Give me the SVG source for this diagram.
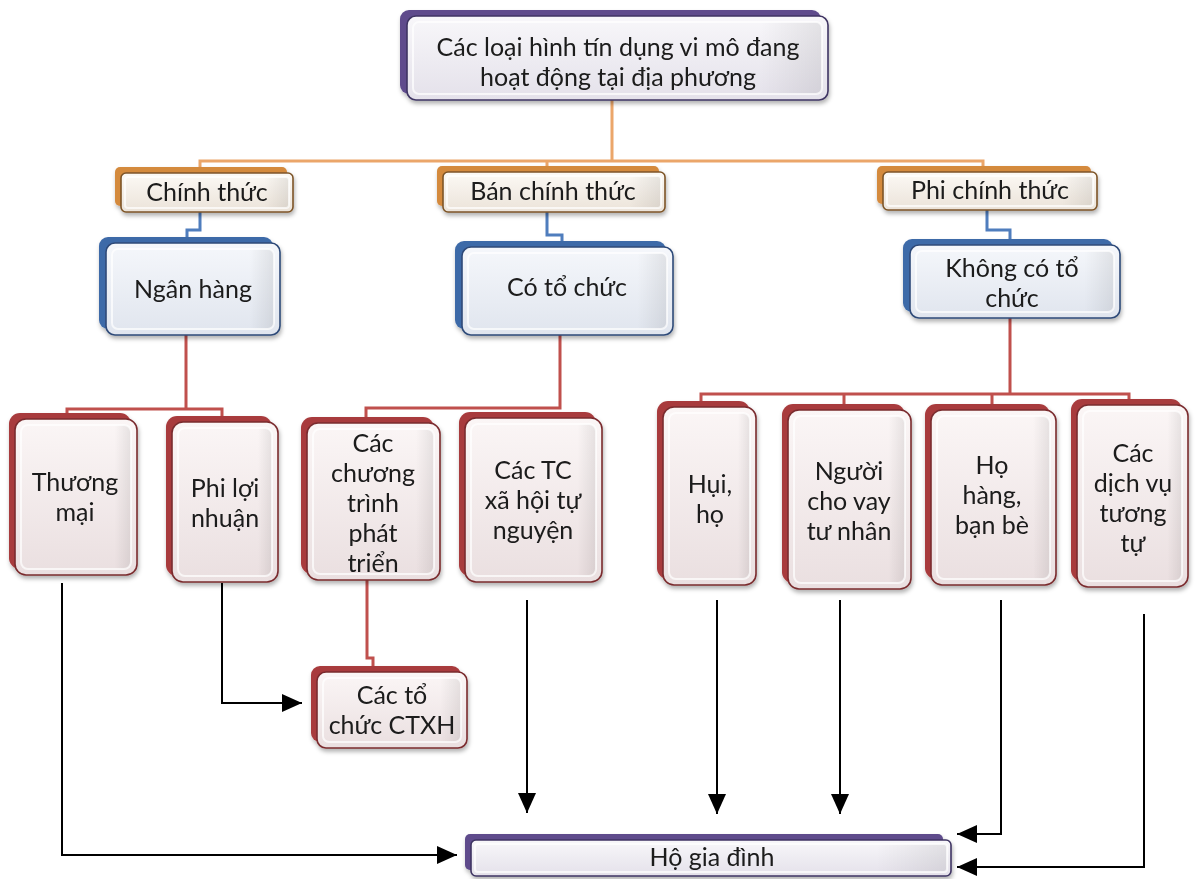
<svg xmlns="http://www.w3.org/2000/svg" width="1197" height="879" viewBox="0 0 1197 879">
<defs>
  <linearGradient id="gPurple" x1="0" y1="0" x2="0" y2="1"><stop offset="0" stop-color="#f8f7fa"/><stop offset="1" stop-color="#e4e1ea"/></linearGradient>
  <linearGradient id="gOrange" x1="0" y1="0" x2="0" y2="1"><stop offset="0" stop-color="#fcf9f5"/><stop offset="1" stop-color="#ebe3d9"/></linearGradient>
  <linearGradient id="gBlue" x1="0" y1="0" x2="0" y2="1"><stop offset="0" stop-color="#f5f7fb"/><stop offset="1" stop-color="#e0e5ee"/></linearGradient>
  <linearGradient id="gRed" x1="0" y1="0" x2="0" y2="1"><stop offset="0" stop-color="#fbf6f6"/><stop offset="1" stop-color="#eadfe0"/></linearGradient>
  <linearGradient id="gShade" x1="0" y1="0" x2="1" y2="0"><stop offset="0" stop-color="#000" stop-opacity="0"/><stop offset="0.85" stop-color="#000" stop-opacity="0"/><stop offset="1" stop-color="#000" stop-opacity="0.08"/></linearGradient>
  <filter id="sh" x="-10%" y="-10%" width="120%" height="130%"><feDropShadow dx="1" dy="3" stdDeviation="2" flood-color="#000" flood-opacity="0.3"/></filter>
  <marker id="ah" markerUnits="userSpaceOnUse" markerWidth="20" markerHeight="18" refX="20" refY="9" orient="auto"><path d="M0,0 L20,9 L0,18 z" fill="#000"/></marker>
  <style>
    .back{stroke:none}
    .bp{fill:#5e4b8c}.bo{fill:#d48a3e}.bb{fill:#3e6aa8}.br{fill:#a83a3c}
    .face{stroke-width:1.6}
    .fp{fill:url(#gPurple);stroke:#3f3563}
    .fo{fill:url(#gOrange);stroke:#7d5428}
    .fb{fill:url(#gBlue);stroke:#2e4a78}
    .fr{fill:url(#gRed);stroke:#7a2c2e}
    .bev{fill:url(#gShade);stroke:#fff;stroke-opacity:0.7;stroke-width:2}
    .t{font-family:Lato,"Liberation Sans",sans-serif;font-size:25px;fill:#1a1a1a;text-anchor:middle}
    .co{fill:none;stroke:#eba66a;stroke-width:3}
    .cb{fill:none;stroke:#4f7dbd;stroke-width:3}
    .cr{fill:none;stroke:#c0504d;stroke-width:3}
    .ck{fill:none;stroke:#000;stroke-width:2}
    .node{filter:url(#sh)}
  </style>
</defs>
<rect width="1197" height="879" fill="#fff"/>

<g id="connectors">
  <path class="co" d="M612 100 V161 M200 168 V161 H983 V167 M547 161 V168"/>
  <path class="cb" d="M200 212 V230 H187 V238"/>
  <path class="cb" d="M547 212 V235 H562 V241"/>
  <path class="cb" d="M987 210 V230 H1010 V239"/>
  <path class="cr" d="M186 335 V409 M67 414 V409 H222 V417"/>
  <path class="cr" d="M560 335 V408 H366 V417"/>
  <path class="cr" d="M1010 318 V394 M701 402 V394 H1129 V400 M844 394 V404 M992 394 V404"/>
  <path class="cr" d="M367 580 V658 H373 V667"/>
  <path class="ck" d="M62 583 V855 H457" marker-end="url(#ah)"/>
  <path class="ck" d="M222 583 V703 H302" marker-end="url(#ah)"/>
  <path class="ck" d="M527 600 V813" marker-end="url(#ah)"/>
  <path class="ck" d="M717 600 V814" marker-end="url(#ah)"/>
  <path class="ck" d="M840 600 V814" marker-end="url(#ah)"/>
  <path class="ck" d="M1001 600 V834 H957" marker-end="url(#ah)"/>
  <path class="ck" d="M1144 614 V867 H957" marker-end="url(#ah)"/>
</g>

<g id="n-root" class="node">
  <rect class="back bp" x="400" y="10" width="421" height="84" rx="9"/>
  <rect class="face fp" x="407" y="16" width="421" height="84" rx="9"/>
  <rect class="bev" x="413" y="22" width="409" height="72" rx="6"/>
  <text class="t" x="618" y="56">Các loại hình tín dụng vi mô đang</text>
  <text class="t" x="618" y="86">hoạt động tại địa phương</text>
</g>

<g id="n-chinhthuc" class="node">
  <rect class="back bo" x="115" y="167" width="172" height="39" rx="5"/>
  <rect class="face fo" x="121" y="173" width="172" height="39" rx="5"/>
  <rect class="bev" x="125" y="177" width="164" height="31" rx="3"/>
  <text class="t" x="207" y="201">Chính thức</text>
</g>

<g id="n-banchinhthuc" class="node">
  <rect class="back bo" x="437" y="166" width="222" height="40" rx="5"/>
  <rect class="face fo" x="443" y="172" width="222" height="40" rx="5"/>
  <rect class="bev" x="447" y="176" width="214" height="32" rx="3"/>
  <text class="t" x="553" y="200">Bán chính thức</text>
</g>

<g id="n-phichinhthuc" class="node">
  <rect class="back bo" x="877" y="166" width="214" height="38" rx="5"/>
  <rect class="face fo" x="883" y="172" width="214" height="38" rx="5"/>
  <rect class="bev" x="887" y="176" width="206" height="30" rx="3"/>
  <text class="t" x="990" y="199">Phi chính thức</text>
</g>

<g id="n-nganhang" class="node">
  <rect class="back bb" x="99" y="237" width="174" height="92" rx="9"/>
  <rect class="face fb" x="106" y="243" width="174" height="92" rx="9"/>
  <rect class="bev" x="112" y="249" width="162" height="80" rx="6"/>
  <text class="t" x="193" y="298">Ngân hàng</text>
</g>

<g id="n-cotochuc" class="node">
  <rect class="back bb" x="455" y="241" width="211" height="88" rx="9"/>
  <rect class="face fb" x="462" y="247" width="211" height="88" rx="9"/>
  <rect class="bev" x="468" y="253" width="199" height="76" rx="6"/>
  <text class="t" x="567" y="296">Có tổ chức</text>
</g>

<g id="n-khongtochuc" class="node">
  <rect class="back bb" x="903" y="239" width="210" height="73" rx="9"/>
  <rect class="face fb" x="910" y="245" width="210" height="73" rx="9"/>
  <rect class="bev" x="916" y="251" width="198" height="61" rx="6"/>
  <text class="t" x="1012" y="277">Không có tổ</text>
  <text class="t" x="1012" y="307">chức</text>
</g>

<g id="n-thuongmai" class="node">
  <rect class="back br" x="9" y="413" width="122" height="156" rx="11"/>
  <rect class="face fr" x="15" y="419" width="122" height="156" rx="11"/>
  <rect class="bev" x="21" y="425" width="110" height="144" rx="7"/>
  <text class="t" x="75" y="491">Thương</text>
  <text class="t" x="75" y="521">mại</text>
</g>

<g id="n-philoinhuan" class="node">
  <rect class="back br" x="166" y="416" width="106" height="160" rx="11"/>
  <rect class="face fr" x="172" y="422" width="106" height="160" rx="11"/>
  <rect class="bev" x="178" y="428" width="94" height="148" rx="7"/>
  <text class="t" x="225" y="497">Phi lợi</text>
  <text class="t" x="225" y="527">nhuận</text>
</g>

<g id="n-chuongtrinh" class="node">
  <rect class="back br" x="301" y="417" width="133" height="157" rx="11"/>
  <rect class="face fr" x="307" y="423" width="133" height="157" rx="11"/>
  <rect class="bev" x="313" y="429" width="121" height="145" rx="7"/>
  <text class="t" x="373" y="452">Các</text>
  <text class="t" x="373" y="482">chương</text>
  <text class="t" x="373" y="512">trình</text>
  <text class="t" x="373" y="542">phát</text>
  <text class="t" x="373" y="572">triển</text>
</g>

<g id="n-tcxahoi" class="node">
  <rect class="back br" x="459" y="412" width="137" height="164" rx="11"/>
  <rect class="face fr" x="465" y="418" width="137" height="164" rx="11"/>
  <rect class="bev" x="471" y="424" width="125" height="152" rx="7"/>
  <text class="t" x="533" y="479">Các TC</text>
  <text class="t" x="533" y="509">xã hội tự</text>
  <text class="t" x="533" y="539">nguyện</text>
</g>

<g id="n-ctxh" class="node">
  <rect class="back br" x="311" y="666" width="150" height="76" rx="9"/>
  <rect class="face fr" x="317" y="672" width="150" height="76" rx="9"/>
  <rect class="bev" x="323" y="678" width="138" height="64" rx="6"/>
  <text class="t" x="392" y="704">Các tổ</text>
  <text class="t" x="392" y="734">chức CTXH</text>
</g>

<g id="n-hui" class="node">
  <rect class="back br" x="657" y="401" width="93" height="178" rx="11"/>
  <rect class="face fr" x="663" y="407" width="93" height="178" rx="11"/>
  <rect class="bev" x="669" y="413" width="81" height="166" rx="7"/>
  <text class="t" x="710" y="493">Hụi,</text>
  <text class="t" x="710" y="523">họ</text>
</g>

<g id="n-nguoichovay" class="node">
  <rect class="back br" x="782" y="404" width="123" height="179" rx="11"/>
  <rect class="face fr" x="788" y="410" width="123" height="179" rx="11"/>
  <rect class="bev" x="794" y="416" width="111" height="167" rx="7"/>
  <text class="t" x="849" y="480">Người</text>
  <text class="t" x="849" y="510">cho vay</text>
  <text class="t" x="849" y="540">tư nhân</text>
</g>

<g id="n-hohang" class="node">
  <rect class="back br" x="925" y="404" width="125" height="175" rx="11"/>
  <rect class="face fr" x="931" y="410" width="125" height="175" rx="11"/>
  <rect class="bev" x="937" y="416" width="113" height="163" rx="7"/>
  <text class="t" x="992" y="474">Họ</text>
  <text class="t" x="992" y="504">hàng,</text>
  <text class="t" x="992" y="534">bạn bè</text>
</g>

<g id="n-dichvu" class="node">
  <rect class="back br" x="1071" y="399" width="111" height="182" rx="11"/>
  <rect class="face fr" x="1077" y="405" width="111" height="182" rx="11"/>
  <rect class="bev" x="1083" y="411" width="99" height="170" rx="7"/>
  <text class="t" x="1133" y="462">Các</text>
  <text class="t" x="1133" y="492">dịch vụ</text>
  <text class="t" x="1133" y="522">tương</text>
  <text class="t" x="1133" y="552">tự</text>
</g>

<g id="n-hogiadinh" class="node">
  <rect class="back bp" x="465" y="834" width="478" height="36" rx="5"/>
  <rect class="face fp" x="471" y="840" width="480" height="36" rx="5"/>
  <rect class="bev" x="475" y="844" width="472" height="28" rx="3"/>
  <text class="t" x="712" y="866">Hộ gia đình</text>
</g>
</svg>
